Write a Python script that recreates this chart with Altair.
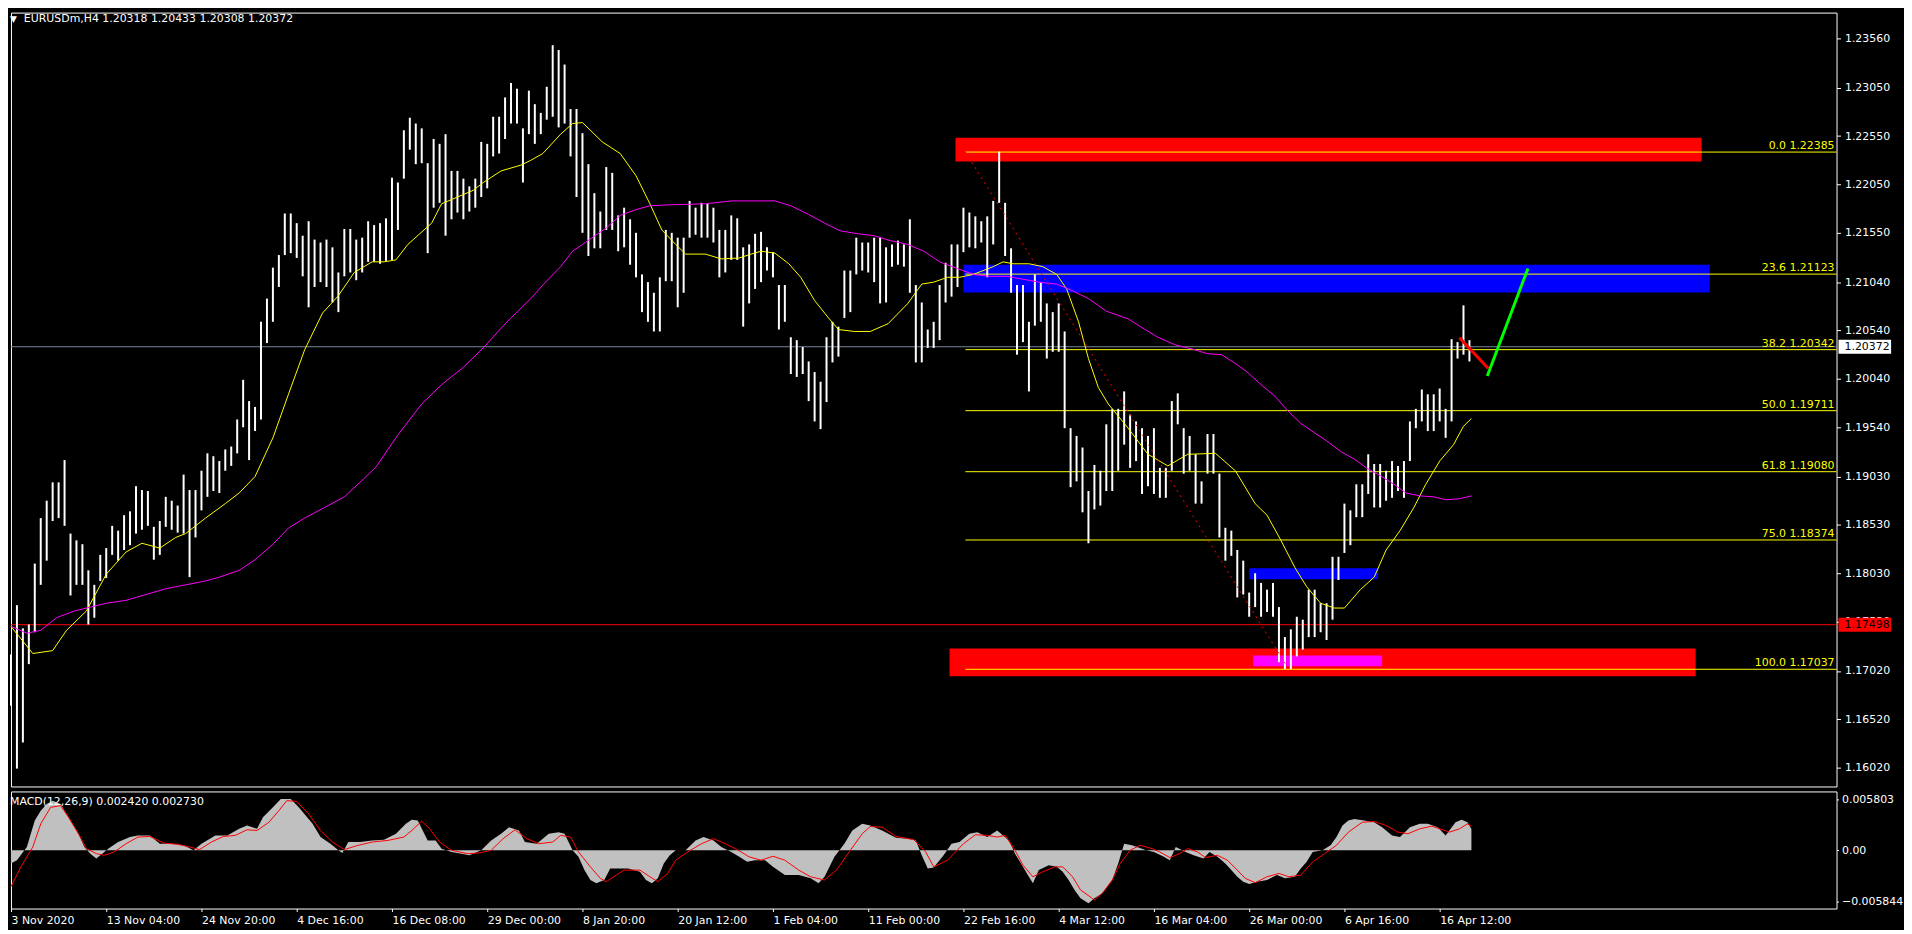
import altair as alt
import pandas as pd

# ---------------- values ----------------
BAR_STEP = 3  # one drawn bar per three H4 bars (index = H4 bar number)

bar_high = [
    1.1719, 1.1770, 1.1746, 1.1750, 1.1813, 1.1860, 1.1878, 1.1897, 1.1897, 1.1920,
    1.1844, 1.1837, 1.1833, 1.1806, 1.1791, 1.1822, 1.1829, 1.1852, 1.1847, 1.1863,
    1.1867, 1.1893, 1.1889, 1.1888, 1.1851, 1.1857, 1.1882, 1.1878, 1.1873, 1.1905,
    1.1889, 1.1889, 1.1909, 1.1927, 1.1924, 1.1919, 1.1931, 1.1934, 1.1962, 1.2003,
    1.1981, 1.1975, 1.2063, 1.2087, 1.2119, 1.2132, 1.2175, 1.2175, 1.2165, 1.2152,
    1.2167, 1.2148, 1.2145, 1.2148, 1.2140, 1.2114, 1.2159, 1.2159, 1.2148, 1.2150,
    1.2167, 1.2163, 1.2165, 1.2170, 1.2212, 1.2207, 1.2261, 1.2274, 1.2268, 1.2263,
    1.2227, 1.2252, 1.2247, 1.2257, 1.2219, 1.2219, 1.2211, 1.2203, 1.2211, 1.2249,
    1.2247, 1.2275, 1.2275, 1.2295, 1.2310, 1.2304, 1.2263, 1.2302, 1.2288, 1.2279,
    1.2306, 1.2349, 1.2344, 1.2329, 1.2283, 1.2283, 1.2258, 1.2226, 1.2196, 1.2177,
    1.2223, 1.2217, 1.2173, 1.2181, 1.2169, 1.2155, 1.2112, 1.2104, 1.2093, 1.2109,
    1.2158, 1.2155, 1.2150, 1.2150, 1.2188, 1.2181, 1.2186, 1.2185, 1.2181, 1.2158,
    1.2158, 1.2173, 1.2170, 1.2140, 1.2143, 1.2154, 1.2156, 1.2140, 1.2135, 1.2101,
    1.2101, 1.2047, 1.2044, 1.2037, 1.2022, 1.2011, 1.2001, 1.2047, 1.2063, 1.2058,
    1.2116, 1.2116, 1.2150, 1.2145, 1.2145, 1.2150, 1.2150, 1.2140, 1.2143, 1.2147,
    1.2143, 1.2169, 1.2101, 1.2083, 1.2055, 1.2063, 1.2101, 1.2124, 1.2143, 1.2143,
    1.2181, 1.2176, 1.2172, 1.2167, 1.2172, 1.2188, 1.2239, 1.2186, 1.2139, 1.2101,
    1.2101, 1.2063, 1.2112, 1.2104, 1.2082, 1.2073, 1.2082, 1.2053, 1.1953, 1.1945,
    1.1933, 1.1888, 1.1915, 1.1909, 1.1957, 1.1973, 1.1973, 1.1991, 1.1967, 1.1960,
    1.1953, 1.1945, 1.1953, 1.1912, 1.1912, 1.1981, 1.1989, 1.1953, 1.1945, 1.1926,
    1.1898, 1.1947, 1.1947, 1.1906, 1.1850, 1.1847, 1.1827, 1.1816, 1.1783, 1.1803,
    1.1793, 1.1786, 1.1793, 1.1768, 1.1737, 1.1745, 1.1758, 1.1755, 1.1786, 1.1786,
    1.1772, 1.1772, 1.1820, 1.1820, 1.1875, 1.1868, 1.1895, 1.1895, 1.1926, 1.1916,
    1.1916, 1.1909, 1.1919, 1.1914, 1.1919, 1.1960, 1.1973, 1.1993, 1.1988, 1.1988,
    1.1994, 1.1973, 1.2045, 1.2042, 1.2080, 1.2044,
]
bar_low = [
    1.1666, 1.1601, 1.1628, 1.1709, 1.1742, 1.1791, 1.1816, 1.1857, 1.1860, 1.1852,
    1.1780, 1.1791, 1.1791, 1.1750, 1.1757, 1.1795, 1.1798, 1.1822, 1.1816, 1.1827,
    1.1832, 1.1844, 1.1848, 1.1852, 1.1817, 1.1822, 1.1851, 1.1848, 1.1845, 1.1844,
    1.1799, 1.1840, 1.1868, 1.1882, 1.1888, 1.1886, 1.1909, 1.1914, 1.1927, 1.1954,
    1.1920, 1.1950, 1.1962, 1.2041, 1.2063, 1.2099, 1.2132, 1.2134, 1.2129, 1.2110,
    1.2078, 1.2099, 1.2104, 1.2099, 1.2083, 1.2073, 1.2110, 1.2114, 1.2106, 1.2114,
    1.2125, 1.2125, 1.2123, 1.2126, 1.2127, 1.2158, 1.2211, 1.2241, 1.2226, 1.2227,
    1.2134, 1.2181, 1.2186, 1.2152, 1.2169, 1.2176, 1.2169, 1.2177, 1.2181, 1.2192,
    1.2201, 1.2234, 1.2237, 1.2252, 1.2268, 1.2268, 1.2207, 1.2257, 1.2247, 1.2257,
    1.2272, 1.2275, 1.2264, 1.2268, 1.2234, 1.2192, 1.2155, 1.2131, 1.2139, 1.2139,
    1.2158, 1.2158, 1.2136, 1.2140, 1.2122, 1.2109, 1.2073, 1.2063, 1.2053, 1.2053,
    1.2105, 1.2105, 1.2078, 1.2093, 1.2150, 1.2153, 1.2150, 1.2150, 1.2145, 1.2109,
    1.2114, 1.2127, 1.2127, 1.2058, 1.2082, 1.2097, 1.2104, 1.2116, 1.2109, 1.2055,
    1.2063, 1.2009, 1.2006, 1.2009, 1.1981, 1.1960, 1.1952, 1.1980, 1.2021, 1.2027,
    1.2067, 1.2073, 1.2112, 1.2116, 1.2114, 1.2104, 1.2082, 1.2083, 1.2120, 1.2122,
    1.2120, 1.2093, 1.2021, 1.2021, 1.2036, 1.2036, 1.2044, 1.2083, 1.2089, 1.2099,
    1.2135, 1.2140, 1.2139, 1.2145, 1.2109, 1.2143, 1.2186, 1.2131, 1.2093, 1.2029,
    1.2042, 1.1991, 1.2059, 1.2063, 1.2025, 1.2032, 1.2032, 1.1953, 1.1892, 1.1898,
    1.1866, 1.1834, 1.1869, 1.1873, 1.1888, 1.1888, 1.1909, 1.1936, 1.1912, 1.1919,
    1.1885, 1.1893, 1.1885, 1.1881, 1.1881, 1.1909, 1.1957, 1.1906, 1.1909, 1.1875,
    1.1875, 1.1906, 1.1906, 1.1840, 1.1816, 1.1821, 1.1778, 1.1781, 1.1758, 1.1768,
    1.1758, 1.1763, 1.1758, 1.1711, 1.1704, 1.1704, 1.1717, 1.1724, 1.1737, 1.1737,
    1.1742, 1.1734, 1.1755, 1.1796, 1.1824, 1.1832, 1.1861, 1.1861, 1.1885, 1.1871,
    1.1871, 1.1878, 1.1881, 1.1888, 1.1881, 1.1919, 1.1953, 1.1960, 1.1950, 1.1950,
    1.1960, 1.1943, 1.1960, 1.2025, 1.2029, 1.2022,
]

fast_ma_idx = [0, 11, 21, 28, 38, 48, 58, 66, 75, 83, 88, 98, 108, 115, 123, 132, 140, 148, 157, 165,
               173, 182, 188, 194, 200, 212, 217, 233, 238, 247, 257, 262, 268, 277, 283, 288, 298, 307, 315, 322,
               328, 335, 340, 350, 358, 367, 373, 378, 385, 392, 398, 405, 412, 417, 425, 433, 442, 452, 459, 465,
               472, 478, 485, 495, 500, 505, 513, 520, 527, 532, 538, 543, 548, 553, 563, 573, 583, 593, 607, 617,
               627, 633, 640, 647, 653, 660, 667, 672, 680, 687, 693, 700, 707, 713, 720, 727, 732, 736]
fast_ma_val = [1.1748, 1.1720, 1.1723, 1.1744, 1.1764, 1.1802, 1.1825, 1.1834, 1.1829, 1.1840,
               1.1844, 1.1860, 1.1875, 1.1886, 1.1903, 1.1943, 1.1989, 1.2034, 1.2072, 1.2090,
               1.2114, 1.2125, 1.2125, 1.2127, 1.2143, 1.2165, 1.2185, 1.2199, 1.2207, 1.2219,
               1.2225, 1.2230, 1.2237, 1.2257, 1.2268, 1.2269, 1.2249, 1.2237, 1.2214, 1.2185,
               1.2158, 1.2143, 1.2133, 1.2133, 1.2128, 1.2129, 1.2133, 1.2136, 1.2134, 1.2123,
               1.2109, 1.2085, 1.2067, 1.2055, 1.2053, 1.2053, 1.2061, 1.2082, 1.2102, 1.2104,
               1.2109, 1.2109, 1.2112, 1.2120, 1.2125, 1.2123, 1.2123, 1.2120, 1.2112, 1.2097,
               1.2063, 1.2025, 1.1995, 1.1978, 1.1953, 1.1926, 1.1914, 1.1926, 1.1927, 1.1909,
               1.1875, 1.1863, 1.1837, 1.1809, 1.1789, 1.1772, 1.1767, 1.1767, 1.1786, 1.1799,
               1.1827, 1.1847, 1.1871, 1.1895, 1.1919, 1.1936, 1.1955, 1.1963]

slow_ma_idx = [0, 8, 15, 23, 32, 40, 48, 58, 68, 78, 88, 98, 105, 115, 123, 132, 140, 148, 158, 168,
               178, 184, 195, 207, 217, 228, 238, 250, 262, 268, 277, 283, 288, 300, 307, 315, 322, 333, 350, 363,
               373, 385, 393, 402, 410, 418, 427, 435, 443, 452, 460, 468, 477, 485, 493, 502, 510, 518, 527, 535,
               543, 552, 563, 570, 578, 587, 595, 603, 610, 617, 623, 630, 637, 643, 650, 657, 663, 670, 677, 683,
               690, 697, 703, 710, 717, 723, 730, 736]
slow_ma_val = [1.1748, 1.1741, 1.1744, 1.1757, 1.1764, 1.1768, 1.1772, 1.1775, 1.1781, 1.1787,
               1.1791, 1.1795, 1.1799, 1.1806, 1.1817, 1.1833, 1.1850, 1.1860, 1.1871, 1.1882,
               1.1901, 1.1913, 1.1946, 1.1978, 1.1998, 1.2016, 1.2036, 1.2063, 1.2087, 1.2101,
               1.2120, 1.2136, 1.2143, 1.2160, 1.2173, 1.2179, 1.2183, 1.2184, 1.2185, 1.2188,
               1.2188, 1.2188, 1.2183, 1.2174, 1.2165, 1.2157, 1.2154, 1.2152, 1.2147, 1.2143,
               1.2136, 1.2125, 1.2118, 1.2112, 1.2110, 1.2110, 1.2107, 1.2104, 1.2102, 1.2095,
               1.2087, 1.2074, 1.2066, 1.2057, 1.2047, 1.2039, 1.2035, 1.2030, 1.2029, 1.2020,
               1.2011, 1.1998, 1.1986, 1.1972, 1.1958, 1.1948, 1.1940, 1.1929, 1.1921, 1.1912,
               1.1904, 1.1895, 1.1886, 1.1883, 1.1882, 1.1879, 1.1880, 1.1883]

hist_idx = [0, 3, 8, 12, 15, 18, 21, 25, 29, 34, 37, 40, 43, 46, 49, 54, 60, 64, 70, 75,
            81, 87, 92, 96, 103, 109, 115, 119, 124, 127, 132, 136, 141, 145, 152, 156, 161, 165, 167, 170,
            176, 182, 188, 194, 199, 202, 205, 210, 214, 217, 222, 227, 231, 237, 242, 247, 251, 256, 259, 265,
            271, 276, 279, 283, 286, 289, 292, 295, 299, 302, 305, 311, 317, 320, 323, 326, 329, 332, 335, 340,
            345, 349, 354, 358, 363, 367, 371, 375, 380, 384, 390, 397, 403, 407, 410, 415, 420, 424, 429, 433,
            439, 446, 452, 456, 459, 462, 465, 470, 474, 478, 483, 487, 492, 497, 500, 503, 506, 509, 512, 515,
            518, 523, 527, 530, 533, 536, 539, 543, 546, 550, 555, 558, 561, 565, 572, 576, 581, 584, 587, 592,
            596, 601, 604, 608, 612, 615, 618, 621, 624, 628, 633, 638, 642, 647, 650, 653, 656, 661, 665, 668,
            671, 674, 677, 682, 687, 691, 696, 700, 705, 710, 714, 719, 723, 728, 731, 734, 736]
hist_val = [-0.00151, -0.00113, 0.00038, 0.00339, 0.00452, 0.00528, 0.00566, 0.00528, 0.00377, 0.00189,
            0.00038, -0.00038, -0.00094, -0.00038, 0.00019, 0.00094, 0.00151, 0.00170, 0.00170, 0.00075,
            0.00075, 0.00057, 0.00000, 0.00075, 0.00170, 0.00170, 0.00245, 0.00283, 0.00245, 0.00377,
            0.00490, 0.00584, 0.00584, 0.00490, 0.00302, 0.00151, 0.00075, 0.00000, -0.00030, 0.00094,
            0.00094, 0.00113, 0.00121, 0.00189, 0.00302, 0.00347, 0.00339, 0.00113, 0.00113, 0.00019,
            -0.00019, -0.00038, -0.00057, 0.00000, 0.00113, 0.00189, 0.00264, 0.00226, 0.00094, 0.00075,
            0.00189, 0.00207, 0.00189, 0.00000, -0.00075, -0.00226, -0.00339, -0.00377, -0.00339, -0.00207,
            -0.00207, -0.00207, -0.00245, -0.00339, -0.00377, -0.00320, -0.00151, -0.00057, 0.00000, 0.00000,
            0.00113, 0.00151, 0.00113, 0.00038, -0.00019, -0.00075, -0.00132, -0.00113, -0.00113, -0.00189,
            -0.00283, -0.00283, -0.00320, -0.00377, -0.00302, -0.00075, 0.00075, 0.00226, 0.00302, 0.00283,
            0.00226, 0.00143, 0.00132, 0.00113, -0.00057, -0.00207, -0.00196, -0.00057, 0.00075, 0.00094,
            0.00189, 0.00207, 0.00151, 0.00226, 0.00170, 0.00113, -0.00038, -0.00151, -0.00264, -0.00377,
            -0.00226, -0.00170, -0.00189, -0.00245, -0.00339, -0.00452, -0.00547, -0.00603, -0.00547, -0.00490,
            -0.00339, -0.00151, 0.00075, 0.00057, 0.00000, -0.00019, -0.00075, -0.00113, 0.00038, -0.00019,
            -0.00057, -0.00094, -0.00019, -0.00075, -0.00151, -0.00226, -0.00302, -0.00358, -0.00385, -0.00358,
            -0.00339, -0.00283, -0.00320, -0.00302, -0.00207, -0.00132, -0.00019, 0.00000, 0.00057, 0.00151,
            0.00283, 0.00339, 0.00358, 0.00339, 0.00320, 0.00264, 0.00170, 0.00151, 0.00264, 0.00302,
            0.00302, 0.00264, 0.00170, 0.00320, 0.00347, 0.00320, 0.00242]

sig_idx = [0, 5, 11, 15, 20, 25, 29, 34, 38, 43, 47, 52, 58, 64, 70, 77, 84, 90, 95, 101,
           107, 113, 119, 124, 130, 135, 139, 144, 150, 156, 162, 168, 175, 182, 190, 198, 202, 207, 211, 216,
           222, 230, 236, 242, 248, 254, 260, 266, 273, 277, 282, 286, 292, 297, 300, 305, 309, 317, 322, 326,
           331, 335, 341, 348, 354, 360, 366, 372, 378, 384, 390, 397, 403, 410, 416, 423, 429, 433, 439, 446,
           455, 461, 465, 472, 480, 486, 492, 497, 501, 506, 510, 515, 520, 526, 530, 535, 539, 546, 550, 555,
           559, 564, 569, 575, 579, 584, 589, 593, 598, 602, 608, 613, 618, 622, 627, 633, 639, 644, 650, 656,
           662, 668, 674, 681, 687, 693, 699, 704, 710, 716, 720, 725, 730, 734, 736]
sig_val = [-0.00415, -0.00189, 0.00038, 0.00302, 0.00490, 0.00509, 0.00377, 0.00189, 0.00019, -0.00038,
           -0.00057, -0.00019, 0.00075, 0.00151, 0.00158, 0.00083, 0.00068, 0.00038, 0.00008, 0.00094,
           0.00158, 0.00170, 0.00234, 0.00226, 0.00320, 0.00452, 0.00566, 0.00558, 0.00415, 0.00226,
           0.00094, 0.00008, 0.00057, 0.00094, 0.00113, 0.00151, 0.00226, 0.00332, 0.00245, 0.00094,
           0.00000, -0.00038, -0.00030, 0.00000, 0.00132, 0.00234, 0.00132, 0.00075, 0.00094, 0.00170,
           0.00151, -0.00019, -0.00189, -0.00320, -0.00358, -0.00283, -0.00226, -0.00226, -0.00302, -0.00358,
           -0.00264, -0.00113, -0.00019, 0.00075, 0.00132, 0.00075, 0.00008, -0.00075, -0.00113, -0.00068,
           -0.00113, -0.00226, -0.00302, -0.00339, -0.00226, 0.00000, 0.00189, 0.00271, 0.00264, 0.00158,
           0.00121, -0.00019, -0.00189, -0.00113, 0.00075, 0.00177, 0.00170, 0.00151, 0.00170, 0.00000,
           -0.00170, -0.00302, -0.00245, -0.00189, -0.00189, -0.00302, -0.00452, -0.00566, -0.00490, -0.00339,
           -0.00151, 0.00000, 0.00057, 0.00019, -0.00019, -0.00083, -0.00038, 0.00019, -0.00019, -0.00083,
           -0.00057, -0.00113, -0.00226, -0.00320, -0.00369, -0.00302, -0.00264, -0.00302, -0.00283, -0.00132,
           -0.00038, 0.00057, 0.00207, 0.00320, 0.00328, 0.00283, 0.00207, 0.00189, 0.00245, 0.00275,
           0.00245, 0.00207, 0.00245, 0.00302, 0.00273]

fib_levels = ["0.0", "23.6", "38.2", "50.0", "61.8", "75.0", "100.0"]
fib_prices = [1.22385, 1.21123, 1.20342, 1.19711, 1.19080, 1.18374, 1.17037]
fib_from_idx = 481
fib_low_idx = 644

zone_x1 = [476, 480, 473, 626, 624]
zone_x2 = [852, 856, 849, 691, 689]
zone_top = [1.22534, 1.21221, 1.17251, 1.17179, 1.18082]
zone_bottom = [1.22288, 1.20934, 1.16964, 1.17067, 1.17969]
zone_color = ["#ff0000", "#0000ff", "#ff0000", "#ff00ff", "#0000ff"]

seg_x1 = [730, 744]
seg_x2 = [744.5, 764.5]
seg_p1 = [1.20465, 1.20069]
seg_p2 = [1.20147, 1.21182]
seg_color = ["#ff0000", "#00ff00"]

time_tick_idx = [0, 48, 96, 144, 192, 240, 288, 336, 384, 432, 480, 528, 576, 624, 672, 720]
time_tick_text = ["3 Nov 2020", "13 Nov 04:00", "24 Nov 20:00", "4 Dec 16:00", "16 Dec 08:00",
                  "29 Dec 00:00", "8 Jan 20:00", "20 Jan 12:00", "1 Feb 04:00", "11 Feb 00:00",
                  "22 Feb 16:00", "4 Mar 12:00", "16 Mar 04:00", "26 Mar 00:00", "6 Apr 16:00",
                  "16 Apr 12:00"]
price_ticks = [1.1602, 1.1652, 1.1702, 1.1753, 1.1803, 1.1853, 1.1903, 1.1954,
               1.2004, 1.2054, 1.2104, 1.2155, 1.2205, 1.2255, 1.2305, 1.2356]
macd_ticks = [-0.005844, 0.0, 0.005803]

last_price = 1.20372
alert_price = 1.17498
ohlc_title = "EURUSDm,H4  1.20318 1.20433 1.20308 1.20372"
macd_title = "MACD(12,26,9) 0.002420 0.002730"

# ---------------- layout ----------------
W, H1, H2 = 1840, 780, 118
FONT = "DejaVu Sans"

xs = alt.Scale(domain=[0, 920], nice=False, zero=False)
ys = alt.Scale(domain=[1.15825, 1.23827], nice=False, zero=False)
ms = alt.Scale(domain=[-0.00664, 0.00671], nice=False, zero=False)

yax = alt.Axis(orient="right", values=price_ticks, format=".5f", tickSize=4,
               labelPadding=4, title=None, labelBaseline="middle")
max_ = alt.Axis(orient="right", values=macd_ticks, tickSize=2, labelPadding=3, title=None,
                labelExpr="datum.value == 0 ? '0.00' : format(datum.value, '.6f')")
arr = "[" + ",".join("'%s'" % t for t in time_tick_text) + "]"
vals = "[" + ",".join(str(v) for v in time_tick_idx) + "]"
xax = alt.Axis(values=time_tick_idx, labelExpr=arr + "[indexof(" + vals + ", datum.value)]",
               labelAlign="left", labelBaseline="top", tickSize=3, labelPadding=3, title=None)

bars = pd.DataFrame({"i": [BAR_STEP * k for k in range(len(bar_high))],
                     "hi": bar_high, "lo": bar_low})
fast = pd.DataFrame({"i": fast_ma_idx, "p": fast_ma_val})
slow = pd.DataFrame({"i": slow_ma_idx, "p": slow_ma_val})
hist = pd.DataFrame({"i": hist_idx, "v": hist_val})
sig = pd.DataFrame({"i": sig_idx, "v": sig_val})
zones = pd.DataFrame({"x1": zone_x1, "x2": zone_x2, "p1": zone_top, "p2": zone_bottom, "c": zone_color})
fib = pd.DataFrame({"p": fib_prices,
                    "label": ["%s %.5f" % (l, p) for l, p in zip(fib_levels, fib_prices)]})
fib["x1"] = fib_from_idx
fib["x2"] = 920
hlines = pd.DataFrame({"p": [last_price, alert_price], "c": ["#778899", "#ff0000"],
                       "box": ["#ffffff", "#ff0000"], "label": ["%.5f" % last_price, "%.5f" % alert_price]})
hlines["x1"] = 0
hlines["x2"] = 920
trend = pd.DataFrame({"x1": [fib_from_idx], "x2": [fib_low_idx],
                      "p1": [fib_prices[0]], "p2": [fib_prices[-1]]})
segs = pd.DataFrame({"x1": seg_x1, "x2": seg_x2, "p1": seg_p1, "p2": seg_p2, "c": seg_color})

X = lambda f: alt.X(f, type="quantitative", scale=xs, axis=None)
Y = lambda f: alt.Y(f, type="quantitative", scale=ys, axis=yax)

zone_l = alt.Chart(zones).mark_rect().encode(
    x=X("x1"), x2="x2", y=Y("p1"), y2="p2", color=alt.Color("c:N", scale=None))
hline_l = alt.Chart(hlines).mark_rule(strokeWidth=1).encode(
    x=X("x1"), x2="x2", y=Y("p"), color=alt.Color("c:N", scale=None))
fib_l = alt.Chart(fib).mark_rule(color="#ffff00", strokeWidth=1).encode(x=X("x1"), x2="x2", y=Y("p"))
bar_l = alt.Chart(bars).mark_rule(color="#ffffff", strokeWidth=2).encode(x=X("i"), y=Y("lo"), y2="hi")
fast_l = alt.Chart(fast).mark_line(color="#ffff00", strokeWidth=1).encode(x=X("i"), y=Y("p"))
slow_l = alt.Chart(slow).mark_line(color="#ff00ff", strokeWidth=1).encode(x=X("i"), y=Y("p"))
trend_l = alt.Chart(trend).mark_rule(color="#ff0000", strokeWidth=1, strokeDash=[2, 4]).encode(
    x=X("x1"), x2="x2", y=Y("p1"), y2="p2")
seg_l = alt.Chart(segs).mark_rule(strokeWidth=3).encode(
    x=X("x1"), x2="x2", y=Y("p1"), y2="p2", color=alt.Color("c:N", scale=None))
fib_txt = alt.Chart(fib).mark_text(align="right", baseline="bottom", dy=-1, color="#ffff00",
                                   font=FONT, fontSize=11).encode(
    x=alt.value(W - 2), y=Y("p"), text="label:N")
box_l = alt.Chart(hlines).mark_rule(strokeWidth=14, strokeCap="butt").encode(
    x=alt.value(W + 2), x2=alt.value(W + 55), y=Y("p"), color=alt.Color("box:N", scale=None))
box_txt = alt.Chart(hlines).mark_text(align="left", baseline="middle", color="#000000",
                                      font=FONT, fontSize=11).encode(
    x=alt.value(W + 8), y=Y("p"), text="label:N")
tri = alt.Chart(pd.DataFrame({"t": ["\u25BC"]})).mark_text(
    align="left", baseline="middle", color="white", font=FONT, fontSize=9).encode(
    x=alt.value(-1), y=alt.value(6), text="t:N")
title_l = alt.Chart(pd.DataFrame({"t": [ohlc_title]})).mark_text(
    align="left", baseline="middle", color="white", font=FONT, fontSize=11).encode(
    x=alt.value(13), y=alt.value(6), text="t:N")

price = alt.layer(zone_l, hline_l, fib_l, bar_l, fast_l, slow_l, trend_l, seg_l,
                  fib_txt, box_l, box_txt, tri, title_l).properties(width=W, height=H1)

XM = lambda f: alt.X(f, type="quantitative", scale=xs, axis=xax)
YM = lambda f: alt.Y(f, type="quantitative", scale=ms, axis=max_)
hist_l = alt.Chart(hist).mark_area(color="#c0c0c0").encode(x=XM("i"), y=YM("v"), y2=alt.datum(0))
sig_l = alt.Chart(sig).mark_line(color="#ff0000", strokeWidth=1).encode(x=XM("i"), y=YM("v"))
mtitle = alt.Chart(pd.DataFrame({"t": [macd_title]})).mark_text(
    align="left", baseline="middle", color="white", font=FONT, fontSize=11).encode(
    x=alt.value(-1), y=alt.value(11), text="t:N")
macd = alt.layer(hist_l, sig_l, mtitle).properties(width=W, height=H2)

chart = alt.vconcat(price, macd, spacing=3).properties(
    background="#000000", padding=0
).configure_view(stroke="#ffffff", strokeWidth=1).configure_axis(
    labelFont=FONT, labelFontSize=11, labelColor="#ffffff", tickColor="#ffffff",
    domain=False, grid=False, labelFlush=False, labelOverlap=False
)

chart.save("out.html", embed_options={"renderer": "svg", "actions": False})
